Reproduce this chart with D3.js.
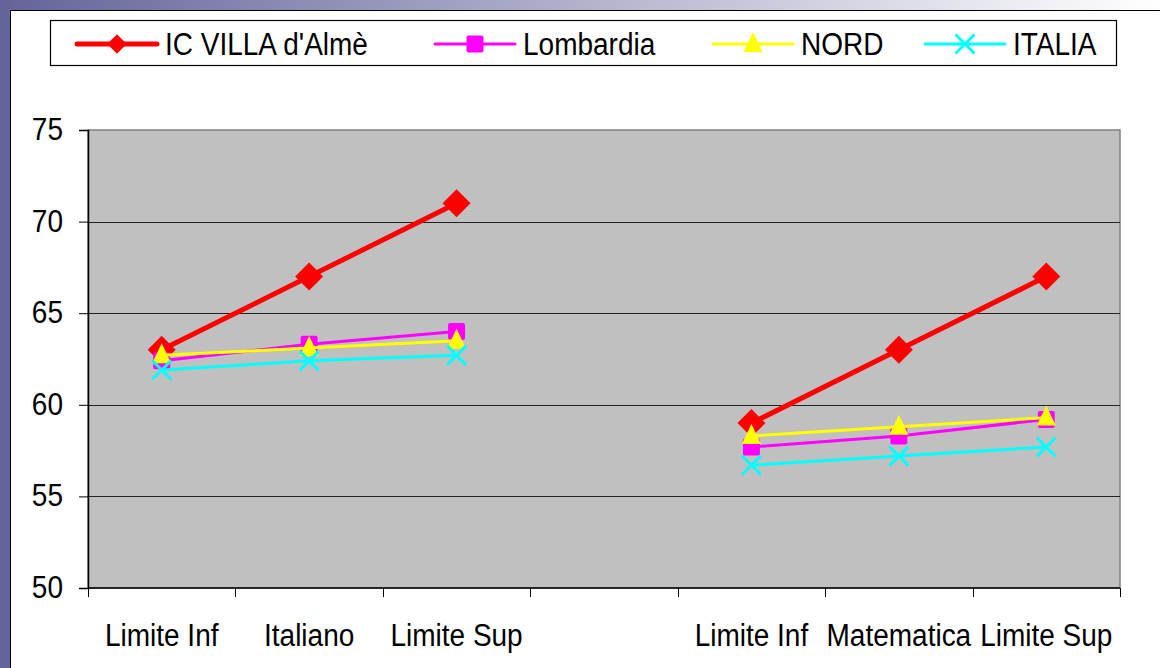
<!DOCTYPE html>
<html>
<head>
<meta charset="utf-8">
<script src="https://cdn.jsdelivr.net/npm/d3@7"></script>
<style>
  html, body { margin: 0; padding: 0; background: #fff; }
  svg { display: block; font-family: "Liberation Sans", Arial, sans-serif; }
</style>
</head>
<body>
<svg id="chart" width="1160" height="668"></svg>
<script>
// categories (the empty one is the gap between the two groups)
var categories = ['Limite Inf', 'Italiano', 'Limite Sup', '', 'Limite Inf', 'Matematica', 'Limite Sup'];
var seriesNames = ["IC VILLA d'Almè", 'Lombardia', 'NORD', 'ITALIA'];
var villa     = [63, 67, 71, null, 59, 63, 67];
var lombardia = [62.4, 63.3, 64.0, null, 57.7, 58.3, 59.2];
var nord      = [62.7, 63.1, 63.5, null, 58.3, 58.8, 59.3];
var italia    = [61.9, 62.4, 62.7, null, 56.7, 57.2, 57.7];
var yTicks    = [50, 55, 60, 65, 70, 75];

(function () {
  'use strict';

  var svg = d3.select('#chart'),
      W = 1160, H = 668,
      plot = { left: 88, right: 1120, top: 130, bottom: 588 },
      font = 28,
      stretch = 'scale(1,1.13)';   // glyphs in the original look a bit tall

  // page frame: purple strips on the left and top
  var defs = svg.append('defs');
  var grad = defs.append('linearGradient')
    .attr('id', 'topstrip').attr('x1', '0%').attr('x2', '100%');
  grad.append('stop').attr('offset', '0%').attr('stop-color', '#64649a');
  grad.append('stop').attr('offset', '100%').attr('stop-color', '#ffffff');

  svg.append('rect').attr('x', 0).attr('y', 0).attr('width', W).attr('height', 10)
    .attr('fill', 'url(#topstrip)');
  svg.append('rect').attr('x', 0).attr('y', 0).attr('width', 10).attr('height', H)
    .attr('fill', '#64649a');
  svg.append('line').attr('x1', 10).attr('x2', W).attr('y1', 10.5).attr('y2', 10.5)
    .attr('stroke', '#000').attr('stroke-width', 1);
  svg.append('line').attr('x1', 10.5).attr('x2', 10.5).attr('y1', 10).attr('y2', H)
    .attr('stroke', '#000').attr('stroke-width', 1);

  // scales
  var x = d3.scaleBand()
    .domain(d3.range(categories.length))
    .range([plot.left, plot.right])
    .padding(0);
  var cx = function (i) { return x(i) + x.bandwidth() / 2; };
  var y = d3.scaleLinear().domain([50, 75]).range([plot.bottom, plot.top]);

  // plot area
  svg.append('rect')
    .attr('x', plot.left).attr('y', plot.top)
    .attr('width', plot.right - plot.left).attr('height', plot.bottom - plot.top)
    .attr('fill', '#c0c0c0').attr('stroke', '#808080').attr('stroke-width', 1.5);

  // gridlines
  svg.append('g').selectAll('line')
    .data(yTicks.filter(function (d) { return d > 50 && d < 75; }))
    .enter().append('line')
      .attr('x1', plot.left).attr('x2', plot.right)
      .attr('y1', function (d) { return Math.round(y(d)) + 0.5; })
      .attr('y2', function (d) { return Math.round(y(d)) + 0.5; })
      .attr('stroke', '#222').attr('stroke-width', 1);

  // y axis
  var yAxis = svg.append('g')
    .attr('transform', 'translate(' + plot.left + ',0)')
    .call(d3.axisLeft(y).tickValues(yTicks).tickSize(9).tickPadding(16));
  yAxis.select('.domain').attr('stroke', '#000').attr('stroke-width', 1.5);
  yAxis.selectAll('.tick line').attr('stroke', '#000');
  yAxis.selectAll('.tick text')
    .attr('font-size', font).attr('fill', '#000')
    .attr('dy', '0.3em')
    .attr('transform', stretch)
    .attr('font-family', '"Liberation Sans", Arial, sans-serif');

  // x axis line, boundary ticks and labels
  var xg = svg.append('g');
  xg.append('line')
    .attr('x1', plot.left).attr('x2', plot.right)
    .attr('y1', plot.bottom).attr('y2', plot.bottom)
    .attr('stroke', '#000').attr('stroke-width', 1.5);
  xg.selectAll('line.tick')
    .data(d3.range(categories.length + 1))
    .enter().append('line')
      .attr('class', 'tick')
      .attr('x1', function (i) { return Math.round(plot.left + i * x.bandwidth()) + 0.5; })
      .attr('x2', function (i) { return Math.round(plot.left + i * x.bandwidth()) + 0.5; })
      .attr('y1', plot.bottom).attr('y2', plot.bottom + 9)
      .attr('stroke', '#000');
  xg.selectAll('text')
    .data(categories)
    .enter().append('text')
      .attr('transform', function (d, i) { return 'translate(' + cx(i) + ',646) ' + stretch; })
      .attr('text-anchor', 'middle')
      .attr('font-size', font)
      .attr('fill', '#000')
      .text(function (d) { return d; });

  // series
  var series = [
    { name: seriesNames[0], values: villa,     color: '#ff0000', width: 5, marker: 'diamond' },
    { name: seriesNames[1], values: lombardia, color: '#ff00ff', width: 3, marker: 'square' },
    { name: seriesNames[2], values: nord,      color: '#ffff00', width: 3, marker: 'triangle' },
    { name: seriesNames[3], values: italia,    color: '#00ffff', width: 3, marker: 'cross' }
  ];

  function drawMarker(g, type, color, k) {
    if (type === 'diamond') {
      g.append('path').attr('d', 'M0,-14L14,0L0,14L-14,0Z').attr('transform', 'scale(' + k + ')')
        .attr('fill', color);
    } else if (type === 'square') {
      g.append('rect').attr('x', -8.5).attr('y', -8.5).attr('width', 17).attr('height', 17)
        .attr('rx', 2).attr('transform', 'scale(' + k + ')').attr('fill', color);
    } else if (type === 'triangle') {
      g.append('path').attr('d', 'M0,-12L9.5,8L-9.5,8Z').attr('transform', 'scale(' + k + ')')
        .attr('fill', color);
    } else {
      g.append('path').attr('d', 'M-9.5,-9.5L9.5,9.5M-9.5,9.5L9.5,-9.5')
        .attr('transform', 'scale(' + k + ')')
        .attr('stroke', color).attr('stroke-width', 3 / k).attr('fill', 'none');
    }
  }

  var line = d3.line()
    .defined(function (d) { return d != null; })
    .x(function (d, i) { return cx(i); })
    .y(function (d) { return y(d); });

  // series drawn in order, later ones on top (as in the original)
  series.forEach(function (s) {
    var g = svg.append('g');
    g.append('path')
      .datum(s.values)
      .attr('d', line)
      .attr('fill', 'none')
      .attr('stroke', s.color)
      .attr('stroke-width', s.width)
      .attr('stroke-linejoin', 'round');
    s.values.forEach(function (v, i) {
      if (v == null) { return; }
      var m = g.append('g').attr('transform', 'translate(' + cx(i) + ',' + y(v) + ')');
      drawMarker(m, s.marker, s.color, 1);
    });
  });

  // legend
  var legendX = [77, 435, 713, 925],
      legendLen = 80;
  svg.append('rect')
    .attr('x', 50.5).attr('y', 20.5).attr('width', 1066).attr('height', 45)
    .attr('fill', '#fff').attr('stroke', '#000').attr('stroke-width', 1.2);
  series.forEach(function (s, k) {
    var g = svg.append('g').attr('transform', 'translate(' + legendX[k] + ',44)');
    g.append('line').attr('x1', 0).attr('x2', legendLen)
      .attr('stroke', s.color).attr('stroke-width', s.width).attr('stroke-linecap', 'round');
    var m = g.append('g').attr('transform', 'translate(' + legendLen / 2 + ',0)');
    drawMarker(m, s.marker, s.color, s.marker === 'diamond' ? 0.7 : 1);
    g.append('text')
      .attr('transform', 'translate(' + (legendLen + 8) + ',11) ' + stretch)
      .attr('font-size', font).attr('fill', '#000')
      .text(s.name);
  });
})();
</script>
</body>
</html>
